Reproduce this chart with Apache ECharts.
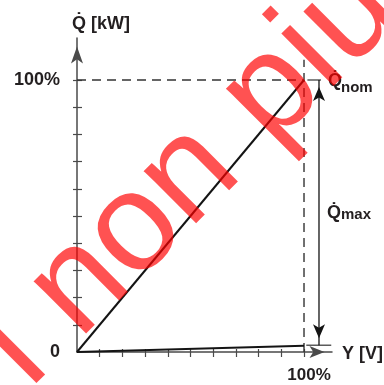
<!DOCTYPE html>
<html><head><meta charset="utf-8">
<script src="https://cdn.jsdelivr.net/npm/echarts@6/dist/echarts.min.js"></script>
<style>html,body{margin:0;padding:0;background:#fff}#c{width:384px;height:385px}</style>
</head><body><div id="c"></div>
<script>
// Control signal Y [V] in % and delivered capacity Q̇ in %
const signalPct = [0, 100];
const capacityPct = [0, 100];        // linear characteristic up to Q̇nom
const minCapacityPct = [0, 2.3];     // minimum-capacity characteristic
const tickValues = [10, 20, 30, 40, 50, 60, 70, 80, 90, 100];
const xLabelValues = [100];
const yLabelValues = [0, 100];
const nomLevel = 100;
const bracketX = 106.6;              // position of the Q̇max dimension arrow
const bracketBottom = 2.5;
const guideTop = 107.4;

const AX = '#4a4a4a', INK = '#141414', TXT = '#231f20';
const FONT = 'Liberation Sans, Arial, sans-serif';
const zip = (a, b) => a.map((v, i) => [v, b[i]]);

const chart = echarts.init(document.getElementById('c'), null, {renderer: 'canvas'});

const baseX = {
  type: 'value', min: 0, max: 112.33, gridIndex: 0, position: 'bottom',
  splitLine: {show: false}
};
const baseY = {
  type: 'value', min: 0, max: 115.44, gridIndex: 0, position: 'left',
  splitLine: {show: false}
};

chart.setOption({
  animation: false,
  grid: {left: 77, top: 38, right: 52, bottom: 33},
  xAxis: [
    Object.assign({}, baseX, {
      axisLine: {show: true, symbol: ['none', 'arrow'], symbolSize: [9, 15], symbolOffset: [0, -7.5],
        lineStyle: {color: AX, width: 1.5}},
      axisTick: {show: true, inside: false, length: 5, customValues: tickValues,
        lineStyle: {color: AX, width: 1.2}},
      axisLabel: {show: true, customValues: xLabelValues, formatter: () => '100%',
        margin: 15, padding: [0, 0, 0, 10], color: TXT, fontFamily: FONT, fontWeight: 'bold', fontSize: 17}
    }),
    Object.assign({}, baseX, {
      axisLine: {show: false},
      axisTick: {show: true, inside: true, length: 3, customValues: tickValues,
        lineStyle: {color: AX, width: 1.2}},
      axisLabel: {show: false}
    })
  ],
  yAxis: [
    Object.assign({}, baseY, {
      axisLine: {show: true, symbol: ['none', 'arrow'], symbolSize: [9, 17], symbolOffset: [0, -8.5],
        lineStyle: {color: AX, width: 1.5}},
      axisTick: {show: true, inside: false, length: 4, customValues: tickValues,
        lineStyle: {color: AX, width: 1.2}},
      axisLabel: {show: true, customValues: yLabelValues, formatter: v => v === 0 ? '0' : '100%',
        margin: 17, color: TXT, fontFamily: FONT, fontWeight: 'bold', fontSize: 18}
    }),
    Object.assign({}, baseY, {
      axisLine: {show: false},
      axisTick: {show: true, inside: true, length: 5, customValues: tickValues,
        lineStyle: {color: AX, width: 1.2}},
      axisLabel: {show: false}
    })
  ],
  series: [
    {type: 'line', data: [[signalPct[1], 0], [signalPct[1], guideTop]], symbol: 'none', clip: false,
      lineStyle: {color: '#333', width: 1.4, type: [9, 6]}},
    {type: 'line', data: [[0, nomLevel], [signalPct[1], nomLevel]], symbol: 'none', clip: false,
      lineStyle: {color: '#333', width: 1.4, type: [9, 6]}},
    {type: 'line', data: [[101.5, nomLevel], [107.5, nomLevel]], symbol: 'none', clip: false,
      lineStyle: {color: '#333', width: 1.2}},
    {type: 'line', data: [[101, bracketBottom], [112, bracketBottom]], symbol: 'none', clip: false,
      lineStyle: {color: '#333', width: 1.2}},
    {type: 'line', clip: false, showSymbol: true, symbolSize: [9, 14],
      lineStyle: {color: INK, width: 1.3}, itemStyle: {color: INK},
      data: [
        {value: [bracketX, nomLevel], symbol: 'arrow', symbolRotate: 0, symbolOffset: [0, 7]},
        {value: [bracketX, bracketBottom], symbol: 'arrow', symbolRotate: 180, symbolOffset: [0, -7]}
      ]},
    {type: 'line', data: zip(signalPct, minCapacityPct), symbol: 'none', clip: false,
      lineStyle: {color: INK, width: 2}},
    {type: 'line', data: zip(signalPct, capacityPct), symbol: 'none', clip: false,
      lineStyle: {color: INK, width: 2}}
  ],
  graphic: [
    {type: 'text', x: 72, y: 24, style: {text: 'Q\u0307 [kW]', font: 'bold 18px ' + FONT, fill: TXT, verticalAlign: 'middle'}},
    {type: 'text', x: 342, y: 354.5, style: {text: 'Y [V]', font: 'bold 18px ' + FONT, fill: TXT, verticalAlign: 'middle'}},
    {type: 'text', x: 328, y: 81.5, style: {text: 'Q\u0307', font: 'bold 18px ' + FONT, fill: TXT, verticalAlign: 'middle'}},
    {type: 'text', x: 341, y: 87.5, style: {text: 'nom', font: 'bold 15px ' + FONT, fill: TXT, verticalAlign: 'middle'}},
    {type: 'text', x: 327, y: 213.5, style: {text: 'Q\u0307', font: 'bold 18px ' + FONT, fill: TXT, verticalAlign: 'middle'}},
    {type: 'text', x: 341, y: 214.5, style: {text: 'max', font: 'bold 15px ' + FONT, fill: TXT, verticalAlign: 'middle'}},
    {type: 'text', x: 2.4, y: 362.4, rotation: Math.PI / 4, z: 100,
      style: {text: 'l non più', font: '140px ' + FONT, fill: 'rgba(255,0,0,0.68)', verticalAlign: 'middle', align: 'left'}}
  ]
});
</script></body></html>
